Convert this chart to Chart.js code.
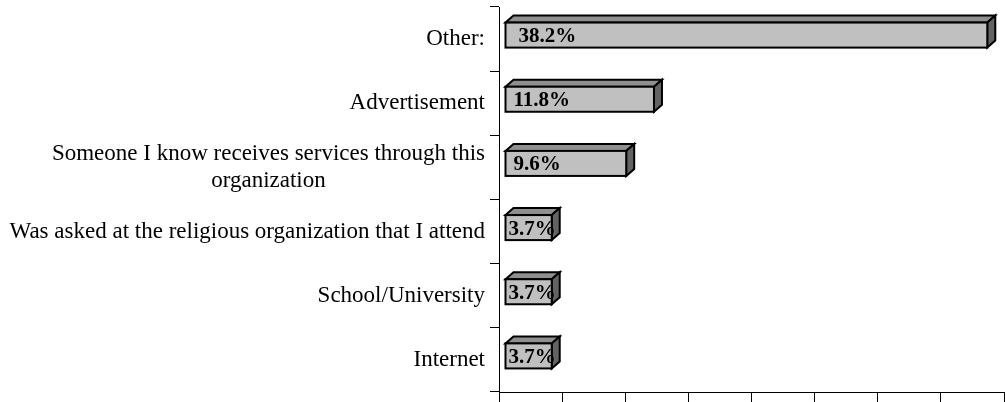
<!DOCTYPE html>
<html>
<head>
<meta charset="utf-8">
<script src="https://cdn.jsdelivr.net/npm/chart.js@4.4.0/dist/chart.umd.min.js"></script>
<style>
  html, body { margin: 0; padding: 0; background: #fff; }
</style>
</head>
<body>
<canvas id="sourceChart" width="1005" height="402"></canvas>
<script>
const categories = [
  ["Other:"],
  ["Advertisement"],
  ["Someone I know receives services through this", "organization"],
  ["Was asked at the religious organization that I attend"],
  ["School/University"],
  ["Internet"]
];
const shares = [38.2, 11.8, 9.6, 3.7, 3.7, 3.7];
const axisMin = 0;
const axisMax = 40;
const axisStep = 5;

const serif = "'Liberation Serif', 'Times New Roman', serif";

// draws each bar as an extruded box: top face, side face, then the front
const boxBars = {
  id: "boxBars",
  afterDatasetsDraw(chart) {
    const ctx = chart.ctx;
    const meta = chart.getDatasetMeta(0);
    const dx = 8, dy = 7;
    ctx.save();
    ctx.lineWidth = 2;
    ctx.strokeStyle = "#000";
    ctx.lineJoin = "miter";
    meta.data.forEach((bar) => {
      const p = bar.getProps(["x", "y", "base", "height"], true);
      const left = p.base + 6, right = p.x + 6;
      const top = p.y - p.height / 2 - 4, bottom = top + p.height;

      ctx.beginPath();
      ctx.moveTo(left, top);
      ctx.lineTo(left + dx, top - dy);
      ctx.lineTo(right + dx, top - dy);
      ctx.lineTo(right, top);
      ctx.closePath();
      ctx.fillStyle = "#8f8f8f";
      ctx.fill();
      ctx.stroke();

      ctx.beginPath();
      ctx.moveTo(right, top);
      ctx.lineTo(right + dx, top - dy);
      ctx.lineTo(right + dx, bottom - dy);
      ctx.lineTo(right, bottom);
      ctx.closePath();
      ctx.fillStyle = "#636363";
      ctx.fill();
      ctx.stroke();

      ctx.fillStyle = "#c0c0c0";
      ctx.fillRect(left, top, right - left, bottom - top);
      ctx.strokeRect(left, top, right - left, bottom - top);
    });

    // value labels on top of the boxes
    ctx.font = "bold 21px " + serif;
    ctx.fillStyle = "#000";
    ctx.textAlign = "left";
    ctx.textBaseline = "alphabetic";
    meta.data.forEach((bar, i) => {
      const p = bar.getProps(["x", "y", "base", "height"], true);
      const left = p.base + 6, right = p.x + 6;
      const top = p.y - p.height / 2 - 4;
      const text = shares[i].toFixed(1) + "%";
      const w = ctx.measureText(text).width;
      const pad = w > right - left - 8 ? 3 : (right - left > 300 ? 13 : 8);
      ctx.fillText(text, left + pad, top + p.height / 2 + 7);
    });
    ctx.restore();
  }
};

// category names, right aligned as a block, extra lines centred under the first
const categoryText = {
  id: "categoryText",
  afterDraw(chart) {
    const ctx = chart.ctx;
    const yScale = chart.scales.y;
    const rightEdge = yScale.right - 14;
    const lineHeight = 27;
    ctx.save();
    ctx.font = "23px " + serif;
    ctx.fillStyle = "#000";
    ctx.textAlign = "center";
    ctx.textBaseline = "middle";
    categories.forEach((lines, i) => {
      const y = yScale.getPixelForTick(i);
      const blockW = Math.max(...lines.map((l) => ctx.measureText(l).width));
      const cx = rightEdge - blockW / 2;
      const y0 = y - (lines.length - 1) * lineHeight / 2;
      lines.forEach((l, j) => ctx.fillText(l, cx, y0 + j * lineHeight));
    });
    ctx.restore();
  }
};

new Chart(document.getElementById("sourceChart"), {
  type: "bar",
  data: {
    labels: categories.map((c) => c.join(" ")),
    datasets: [
      {
        data: shares,
        backgroundColor: "rgba(0,0,0,0)",
        borderWidth: 0,
        categoryPercentage: 1,
        barPercentage: 0.39,
      },
    ],
  },
  options: {
    indexAxis: "y",
    responsive: false,
    animation: false,
    layout: { padding: { top: 7, right: 1, bottom: 0, left: 0 } },
    scales: {
      x: {
        type: "linear",
        min: axisMin,
        max: axisMax,
        ticks: { stepSize: axisStep, display: false },
        grid: { drawOnChartArea: false, drawTicks: true, tickLength: 10, color: "#000" },
        border: { color: "#000", width: 1 },
        afterFit(scale) { scale.height = 10; },
      },
      y: {
        ticks: { display: false },
        grid: { offset: true, drawOnChartArea: false, drawTicks: true, tickLength: 9, color: "#000" },
        border: { color: "#000", width: 1 },
        afterFit(scale) { scale.width = 499; },
      },
    },
    plugins: {
      legend: { display: false },
      tooltip: { enabled: false },
    },
  },
  plugins: [boxBars, categoryText],
});
</script>
</body>
</html>
